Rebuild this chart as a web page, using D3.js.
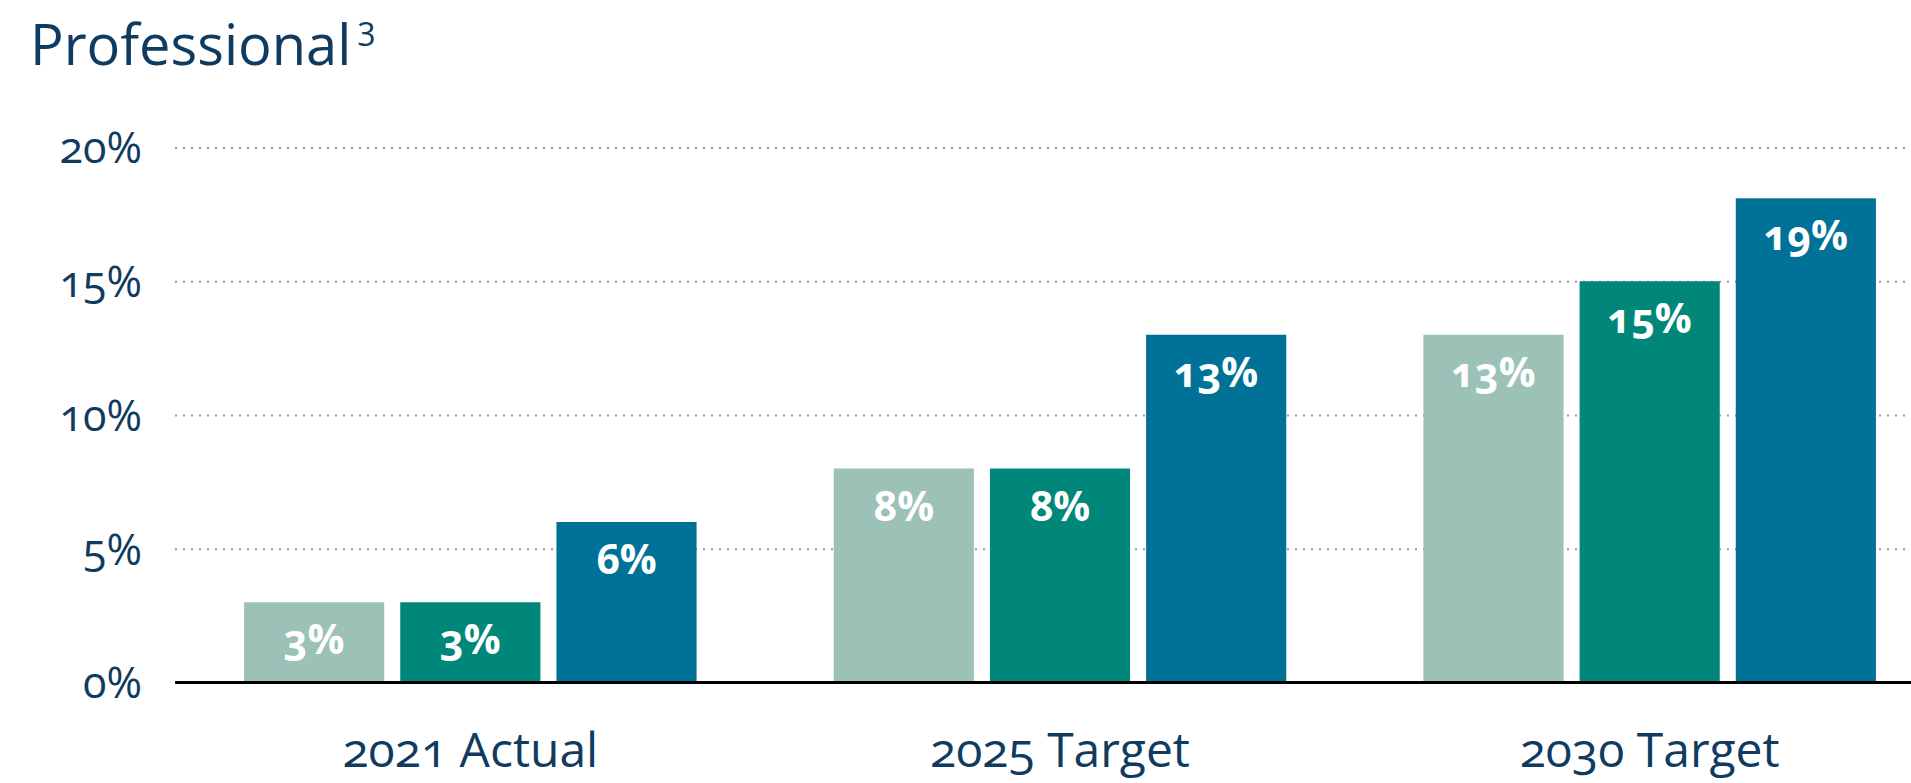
<!DOCTYPE html>
<html>
<head>
<meta charset="utf-8">
<script src="https://cdn.jsdelivr.net/npm/d3@7"></script>
<style>
  html, body { margin: 0; padding: 0; background: #ffffff; }
  svg { display: block; font-family: "Open Sans", "Noto Sans", sans-serif; font-variant-numeric: oldstyle-nums; font-feature-settings: "onum" 1; }
</style>
</head>
<body>
<svg id="chart" width="1911" height="783"></svg>
<script>
// ---- data ----
const categories = ["2021 Actual", "2025 Target", "2030 Target"];
const seriesNames = ["Series A", "Series B", "Series C"];
const seriesA = [3, 8, 13];
const seriesB = [3, 8, 15];
const seriesC = [6, 13, 18.1];
const labelsA = ["3%", "8%", "13%"];
const labelsB = ["3%", "8%", "15%"];
const labelsC = ["6%", "13%", "19%"];
const yTicks = [0, 5, 10, 15, 20];
const yTickLabels = ["0%", "5%", "10%", "15%", "20%"];
const titleText = "Professional";
const titleNote = "3";

const colors = ["#9cc2b8", "#00877a", "#007298"];
const navy = "#0f3b61";

const plotLeft = 175, plotRight = 1911, plotTop = 147.5, plotBottom = 682.5;

const svg = d3.select("#chart");

const x0 = d3.scaleBand().domain(categories).range([176, 1944])
  .paddingInner(137 / 589).paddingOuter(68 / 589);
const x1 = d3.scaleBand().domain(seriesNames).range([0, x0.bandwidth()])
  .paddingInner(16 / 156);
const y = d3.scaleLinear().domain([0, 20]).range([plotBottom, plotTop]);

// title
const t = svg.append("text").attr("x", 30).attr("y", 65)
  .attr("fill", navy).attr("font-size", 56).text(titleText);
t.append("tspan").attr("dx", 6).attr("dy", -19).attr("font-size", 32)
  .style("font-variant-numeric", "lining-nums").style("font-feature-settings", "'lnum' 1")
  .text(titleNote);

// y axis with gridlines
const yAxis = d3.axisLeft(y).tickValues(yTicks)
  .tickFormat((d, i) => yTickLabels[i])
  .tickSizeInner(-(plotRight - plotLeft)).tickSizeOuter(0).tickPadding(33);
const gy = svg.append("g").attr("transform", `translate(${plotLeft},0)`).call(yAxis);
gy.select(".domain").remove();
gy.selectAll(".tick line").attr("stroke", "#9a9a9a").attr("stroke-width", 2)
  .attr("stroke-dasharray", "2,6");
gy.selectAll(".tick text").attr("fill", navy).attr("font-size", 43)
  .attr("font-family", "'Open Sans', sans-serif").attr("dy", "0.36em");

// bars
const rows = categories.map((c, i) => ({
  cat: c,
  items: [
    { s: seriesNames[0], v: seriesA[i], l: labelsA[i], c: colors[0] },
    { s: seriesNames[1], v: seriesB[i], l: labelsB[i], c: colors[1] },
    { s: seriesNames[2], v: seriesC[i], l: labelsC[i], c: colors[2] }
  ]
}));

const groups = svg.append("g").selectAll("g").data(rows).join("g")
  .attr("transform", d => `translate(${x0(d.cat)},0)`);

groups.selectAll("rect").data(d => d.items).join("rect")
  .attr("x", d => x1(d.s)).attr("width", x1.bandwidth())
  .attr("y", d => y(d.v)).attr("height", d => y(0) - y(d.v))
  .attr("fill", d => d.c);

groups.selectAll("text.lbl").data(d => d.items).join("text")
  .attr("class", "lbl")
  .attr("x", d => x1(d.s) + x1.bandwidth() / 2)
  .attr("y", d => y(d.v) + 52)
  .attr("text-anchor", "middle").attr("fill", "#ffffff")
  .attr("font-size", 41).attr("font-weight", 700)
  .text(d => d.l);

// x axis
const xAxis = d3.axisBottom(x0).tickSize(0).tickPadding(50);
const gx = svg.append("g").attr("transform", `translate(0,${plotBottom})`).call(xAxis);
gx.select(".domain").remove();
gx.selectAll(".tick text").attr("fill", navy).attr("font-size", 48)
  .attr("font-family", "'Open Sans', sans-serif");
svg.append("line").attr("x1", plotLeft).attr("x2", plotRight)
  .attr("y1", y(0)).attr("y2", y(0))
  .attr("stroke", "#000").attr("stroke-width", 3);
</script>
</body>
</html>
